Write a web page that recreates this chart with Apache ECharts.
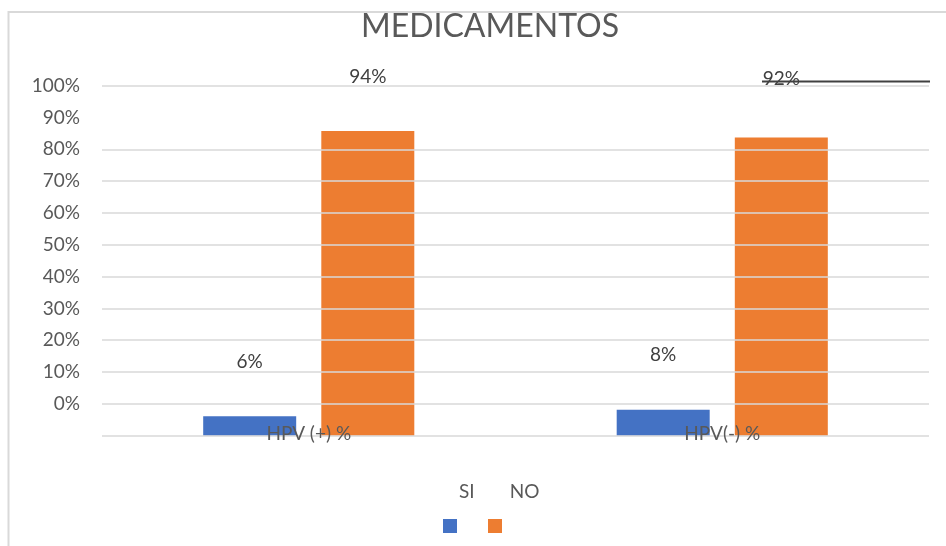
<!DOCTYPE html>
<html>
<head>
<meta charset="utf-8">
<script src="https://cdn.jsdelivr.net/npm/echarts@6/dist/echarts.min.js"></script>
<style>
  html, body { margin: 0; padding: 0; background: #ffffff; }
  #chart { width: 946px; height: 546px; }
</style>
</head>
<body>
<div id="chart"></div>
<script>
// Categories and values (percent)
const categories = ['HPV (+) %', 'HPV(-) %'];
const seriesNames = ['SI', 'NO'];
const siValues = [6, 8];
const noValues = [94, 92];
// Tick labels on the percentage axis (the -10 step is an unlabeled base line)
const tickValues = [-10, 0, 10, 20, 30, 40, 50, 60, 70, 80, 90, 100];
// Grid lines drawn across the plot (no line at 90%)
const gridValues = [-10, 0, 10, 20, 30, 40, 50, 60, 70, 80, 100];

const FONT = 'Lato, "Liberation Sans", sans-serif';
const GREY = '#595959';
const LABEL = '#404040';
const GRID = '#d9d9d9';

const chart = echarts.init(document.getElementById('chart'), null, { renderer: 'canvas' });

function valueLabels(values, offsets) {
  return values.map((v, i) => ({
    value: v,
    label: { offset: [0, offsets[i]] }
  }));
}

const option = {
  backgroundColor: '#ffffff',
  animation: false,
  title: {
    text: 'MEDICAMENTOS',
    left: 356,
    top: 6,
    textStyle: { fontFamily: FONT, fontSize: 32, fontWeight: 'normal', color: GREY }
  },
  grid: { left: 102, right: 17, top: 85.7, bottom: 110.3, containLabel: false },
  legend: [
    {
      // colour swatches
      data: seriesNames,
      left: 438,
      top: 514,
      orient: 'horizontal',
      icon: 'rect',
      itemWidth: 14,
      itemHeight: 14,
      itemGap: 31,
      selectedMode: false,
      formatter: () => '',
      textStyle: { fontSize: 1 }
    },
    {
      // series names above the swatches
      data: seriesNames,
      left: 449,
      top: 477,
      orient: 'horizontal',
      itemWidth: 0,
      itemHeight: 0,
      itemGap: 30,
      selectedMode: false,
      textStyle: { fontFamily: FONT, fontSize: 19, color: GREY }
    }
  ],
  xAxis: {
    type: 'category',
    data: categories,
    axisLine: { show: false },
    axisTick: { show: false },
    splitLine: { show: false },
    axisLabel: {
      fontFamily: FONT, fontSize: 19, color: GREY,
      margin: -11
    },
    z: 10
  },
  yAxis: [
    {
      type: 'value',
      min: -10,
      max: 100,
      interval: 10,
      axisLine: { show: false },
      axisTick: { show: false },
      axisLabel: {
        fontFamily: FONT, fontSize: 19, color: GREY, margin: 22,
        formatter: v => (tickValues.includes(v) && v >= 0) ? v + '%' : ''
      },
      splitLine: { show: false }
    },
    {
      // bar scale measured from the lowest grid line
      type: 'value',
      min: 0,
      max: 108,
      show: false,
      splitLine: { show: false }
    }
  ],
  series: [
    {
      // horizontal grid lines on the percentage axis
      name: 'grid',
      type: 'line',
      yAxisIndex: 0,
      data: [],
      silent: true,
      z: 0,
      markLine: {
        silent: true,
        symbol: ['none', 'none'],
        label: { show: false },
        lineStyle: { color: GRID, width: 1.5, type: 'solid' },
        emphasis: { disabled: true },
        data: gridValues.map(v => ({ yAxis: v }))
      }
    },
    {
      name: 'SI',
      type: 'bar',
      yAxisIndex: 1,
      barWidth: 93,
      barGap: '27%',
      z: 2,
      itemStyle: { color: '#4472c4' },
      label: {
        show: true, position: 'top', distance: 5,
        fontFamily: FONT, fontSize: 19, color: LABEL,
        formatter: p => p.value + '%'
      },
      data: valueLabels(siValues, [-40, -40])
    },
    {
      name: 'NO',
      type: 'bar',
      yAxisIndex: 1,
      barWidth: 93,
      z: 2,
      itemStyle: { color: '#ed7d31' },
      label: {
        show: true, position: 'top', distance: 5,
        fontFamily: FONT, fontSize: 19, color: LABEL,
        formatter: p => p.value + '%'
      },
      data: valueLabels(noValues, [-40, -44])
    }
  ],
  graphic: [
    {
      // chart frame
      type: 'rect',
      silent: true,
      shape: { x: 8.5, y: 12, width: 960, height: 560 },
      style: { fill: 'none', stroke: GRID, lineWidth: 2 },
      z: -1
    },
    {
      // dark rule near the top right
      type: 'line',
      silent: true,
      shape: { x1: 762, y1: 81.5, x2: 930, y2: 81.5 },
      style: { stroke: '#404040', lineWidth: 2 },
      z: 100
    }
  ]
};

chart.setOption(option);
</script>
</body>
</html>
